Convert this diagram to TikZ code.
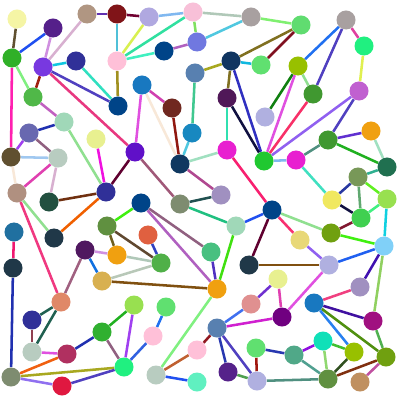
\documentclass[tikz,border=0pt]{standalone}
\usetikzlibrary{backgrounds}
\tikzset{
  dot/.style={circle, inner sep=0pt, minimum size=0.475cm, draw=none},
  edge/.style={line width=1.8pt}
}
\newcommand\mkdot[4]{\definecolor{tmpn}{HTML}{#4}\node[dot, fill=tmpn] (n#1) at (#2,#3) {};}
\newcommand\mkedge[3]{\definecolor{tmpe}{HTML}{#3}\draw[edge, draw=tmpe] (n#1) -- (n#2);}
\begin{document}
\begin{tikzpicture}[x=0.025cm, y=-0.025cm]
\useasboundingbox (0,0) rectangle (400,400);
\mkdot{1}{17}{19}{F5F5A5}
\mkdot{2}{53}{28}{55208A}
\mkdot{3}{87}{14}{B09682}
\mkdot{4}{117}{14}{801418}
\mkdot{5}{149}{17}{B0A8E0}
\mkdot{6}{193}{12}{F8C0D8}
\mkdot{7}{251}{17}{A8A0A0}
\mkdot{8}{301}{25}{60DC70}
\mkdot{9}{346}{20}{A8A0A0}
\mkdot{10}{364}{46}{20F080}
\mkdot{11}{12}{58}{30B028}
\mkdot{12}{43}{67}{7838E0}
\mkdot{13}{76}{61}{303098}
\mkdot{14}{117}{61}{FFC0D8}
\mkdot{15}{164}{51}{004488}
\mkdot{16}{197}{42}{7078E0}
\mkdot{17}{231}{61}{103560}
\mkdot{18}{261}{65}{60E070}
\mkdot{19}{298}{66}{98C000}
\mkdot{20}{195}{73}{5880B0}
\mkdot{21}{33}{97}{50B848}
\mkdot{22}{118}{106}{004488}
\mkdot{23}{142}{85}{1878C0}
\mkdot{24}{172}{108}{702820}
\mkdot{25}{227}{98}{501858}
\mkdot{26}{313}{94}{409830}
\mkdot{27}{359}{91}{C060D0}
\mkdot{28}{265}{117}{B0B0E0}
\mkdot{29}{29}{133}{6868B0}
\mkdot{30}{64}{122}{A0D8B8}
\mkdot{31}{96}{139}{E8F090}
\mkdot{32}{135}{152}{6010C8}
\mkdot{33}{192}{133}{1888C0}
\mkdot{34}{180}{164}{103860}
\mkdot{35}{227}{150}{E820D0}
\mkdot{36}{264}{161}{20C830}
\mkdot{37}{296}{160}{E820D0}
\mkdot{38}{328}{140}{409830}
\mkdot{39}{371}{131}{F0A010}
\mkdot{40}{387}{167}{207050}
\mkdot{41}{11}{157}{605030}
\mkdot{42}{58}{158}{B8CCC0}
\mkdot{43}{358}{177}{789858}
\mkdot{44}{17}{193}{B09080}
\mkdot{45}{106}{192}{303098}
\mkdot{46}{49}{202}{225040}
\mkdot{47}{332}{200}{F0E860}
\mkdot{48}{387}{199}{98E050}
\mkdot{49}{141}{203}{004488}
\mkdot{50}{180}{204}{7E8C70}
\mkdot{51}{221}{195}{A090C0}
\mkdot{52}{361}{218}{40D050}
\mkdot{53}{14}{232}{2070A0}
\mkdot{54}{54}{238}{203848}
\mkdot{55}{107}{226}{609040}
\mkdot{56}{148}{235}{E06040}
\mkdot{57}{236}{226}{A0D8B8}
\mkdot{58}{272}{210}{004488}
\mkdot{59}{331}{233}{70A010}
\mkdot{60}{300}{240}{E8D878}
\mkdot{61}{384}{246}{80D0F8}
\mkdot{62}{13}{268}{203848}
\mkdot{63}{85}{250}{501860}
\mkdot{64}{117}{255}{F0A010}
\mkdot{65}{161}{263}{50B048}
\mkdot{66}{211}{252}{48C080}
\mkdot{67}{249}{265}{203848}
\mkdot{68}{278}{279}{E8F090}
\mkdot{69}{329}{265}{B0B0E0}
\mkdot{70}{360}{287}{A090C0}
\mkdot{71}{102}{281}{D8B050}
\mkdot{72}{134}{305}{98E050}
\mkdot{73}{166}{307}{60E070}
\mkdot{74}{217}{289}{F0A010}
\mkdot{75}{61}{302}{E08868}
\mkdot{76}{251}{304}{E09090}
\mkdot{77}{282}{317}{700080}
\mkdot{78}{314}{303}{1878C0}
\mkdot{79}{373}{321}{A01080}
\mkdot{80}{32}{320}{303098}
\mkdot{81}{102}{332}{30B030}
\mkdot{82}{153}{336}{FFC0D8}
\mkdot{83}{217}{328}{5880B0}
\mkdot{84}{197}{350}{FFC0D8}
\mkdot{85}{256}{348}{60E070}
\mkdot{86}{294}{355}{50A888}
\mkdot{87}{323}{341}{10E0B8}
\mkdot{88}{354}{352}{98C000}
\mkdot{89}{386}{357}{70A010}
\mkdot{90}{32}{352}{B8CCC0}
\mkdot{91}{67}{354}{B03060}
\mkdot{92}{124}{367}{20F080}
\mkdot{93}{156}{375}{B8CCC0}
\mkdot{94}{197}{382}{60F0C0}
\mkdot{95}{228}{372}{55228A}
\mkdot{96}{257}{381}{B0B0E0}
\mkdot{97}{328}{379}{609040}
\mkdot{98}{360}{382}{C09060}
\mkdot{99}{11}{377}{7E8C70}
\mkdot{100}{62}{386}{E01840}
\begin{scope}[on background layer]
\fill[white] (0,0) rectangle (400,400);
\mkedge{1}{11}{605030}
\mkedge{2}{11}{2050F0}
\mkedge{2}{12}{D090E0}
\mkedge{3}{12}{D8B0D0}
\mkedge{3}{4}{6030B0}
\mkedge{4}{5}{700030}
\mkedge{4}{14}{50C0D8}
\mkedge{14}{5}{D8F050}
\mkedge{14}{6}{30E0A0}
\mkedge{14}{15}{40F0C0}
\mkedge{14}{22}{A09020}
\mkedge{12}{13}{10C8E0}
\mkedge{13}{22}{30E0C0}
\mkedge{12}{22}{5040C0}
\mkedge{12}{21}{A02010}
\mkedge{12}{32}{E83880}
\mkedge{11}{41}{FF20B0}
\mkedge{11}{21}{80F080}
\mkedge{21}{30}{C060C0}
\mkedge{29}{30}{2030B0}
\mkedge{30}{45}{90E090}
\mkedge{5}{6}{80B8F0}
\mkedge{6}{7}{B0C8B8}
\mkedge{6}{16}{80E060}
\mkedge{7}{16}{50C8E0}
\mkedge{7}{8}{80F070}
\mkedge{15}{16}{B060C0}
\mkedge{17}{20}{A8A820}
\mkedge{17}{8}{807020}
\mkedge{17}{18}{10B8E0}
\mkedge{17}{25}{807020}
\mkedge{17}{36}{3030C0}
\mkedge{25}{36}{101040}
\mkedge{25}{35}{30E0B0}
\mkedge{18}{8}{801020}
\mkedge{20}{33}{40C890}
\mkedge{23}{24}{D040B0}
\mkedge{23}{32}{E050E0}
\mkedge{23}{34}{F8E8D8}
\mkedge{24}{34}{901810}
\mkedge{9}{10}{E040A0}
\mkedge{9}{19}{2070F0}
\mkedge{9}{26}{5040C0}
\mkedge{10}{27}{E0F050}
\mkedge{19}{26}{90E090}
\mkedge{19}{28}{108010}
\mkedge{19}{36}{E050E0}
\mkedge{26}{36}{F83068}
\mkedge{27}{36}{9060F0}
\mkedge{27}{38}{5040C0}
\mkedge{38}{39}{6030D0}
\mkedge{36}{37}{80B8F0}
\mkedge{37}{38}{509080}
\mkedge{38}{40}{20B020}
\mkedge{39}{40}{A0E0C0}
\mkedge{37}{47}{40E0C0}
\mkedge{40}{43}{30B090}
\mkedge{43}{47}{2838A0}
\mkedge{43}{52}{60A870}
\mkedge{43}{48}{60F020}
\mkedge{48}{52}{40F080}
\mkedge{47}{52}{101040}
\mkedge{48}{61}{10D0E0}
\mkedge{52}{59}{801830}
\mkedge{59}{61}{40F010}
\mkedge{58}{59}{90E090}
\mkedge{58}{60}{F83070}
\mkedge{60}{69}{9060F0}
\mkedge{61}{69}{2060F0}
\mkedge{61}{70}{4010B0}
\mkedge{61}{79}{90D060}
\mkedge{35}{58}{F82070}
\mkedge{58}{67}{600030}
\mkedge{57}{58}{2050F0}
\mkedge{67}{69}{805010}
\mkedge{71}{74}{805010}
\mkedge{68}{77}{E040B0}
\mkedge{68}{76}{7030D0}
\mkedge{69}{77}{E050E0}
\mkedge{70}{78}{F04080}
\mkedge{78}{79}{4010A0}
\mkedge{78}{89}{509010}
\mkedge{78}{88}{2880F0}
\mkedge{79}{89}{50B050}
\mkedge{77}{83}{D020D0}
\mkedge{87}{88}{40C030}
\mkedge{86}{87}{9010E0}
\mkedge{87}{97}{90D870}
\mkedge{88}{97}{305020}
\mkedge{89}{97}{803010}
\mkedge{89}{98}{C050A0}
\mkedge{86}{97}{50A090}
\mkedge{85}{86}{2838B0}
\mkedge{96}{97}{509080}
\mkedge{66}{74}{5030C0}
\mkedge{57}{74}{40E010}
\mkedge{49}{66}{906080}
\mkedge{49}{74}{B060C0}
\mkedge{74}{93}{80F080}
\mkedge{76}{83}{4070F0}
\mkedge{83}{84}{901820}
\mkedge{83}{95}{2838B0}
\mkedge{83}{96}{5040C0}
\mkedge{85}{96}{A01810}
\mkedge{95}{96}{50A050}
\mkedge{84}{93}{C06030}
\mkedge{93}{94}{2050F0}
\mkedge{73}{82}{2070F0}
\mkedge{82}{92}{3060E0}
\mkedge{72}{92}{A040F0}
\mkedge{72}{81}{20B020}
\mkedge{65}{71}{B8C8B8}
\mkedge{64}{65}{B0C8B8}
\mkedge{55}{65}{604830}
\mkedge{56}{65}{3040C0}
\mkedge{49}{55}{40F010}
\mkedge{55}{64}{706020}
\mkedge{63}{64}{D090E0}
\mkedge{63}{75}{A06080}
\mkedge{63}{71}{1070E0}
\mkedge{44}{75}{F03880}
\mkedge{75}{80}{206050}
\mkedge{75}{90}{206050}
\mkedge{80}{90}{904050}
\mkedge{90}{91}{E050E0}
\mkedge{81}{91}{2030B0}
\mkedge{81}{92}{906080}
\mkedge{62}{99}{2030B0}
\mkedge{91}{99}{F06010}
\mkedge{92}{99}{A8A820}
\mkedge{99}{100}{9070F0}
\mkedge{92}{100}{5040C0}
\mkedge{53}{62}{F01870}
\mkedge{29}{41}{A040F0}
\mkedge{29}{42}{906080}
\mkedge{41}{42}{A0C8F0}
\mkedge{41}{44}{F8E8D8}
\mkedge{42}{46}{D8B0D0}
\mkedge{42}{44}{E040B0}
\mkedge{44}{54}{90E090}
\mkedge{45}{46}{703010}
\mkedge{31}{45}{F010E0}
\mkedge{32}{45}{600030}
\mkedge{45}{54}{F06000}
\mkedge{32}{50}{A05878}
\mkedge{33}{34}{50C8E0}
\mkedge{34}{35}{A0E0C0}
\mkedge{34}{51}{B04890}
\mkedge{50}{51}{205050}
\mkedge{50}{57}{20C080}
\end{scope}
\end{tikzpicture}
\end{document}
